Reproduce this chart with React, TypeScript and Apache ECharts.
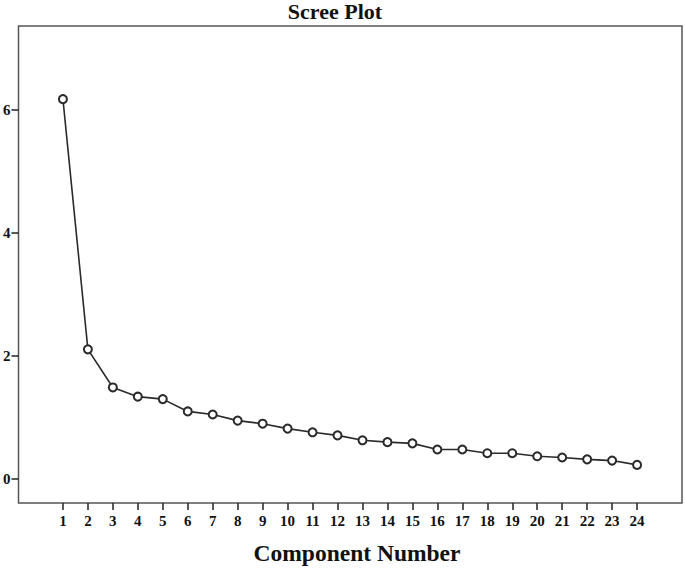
import React, { useEffect, useRef } from "react";
import * as echarts from "echarts";

const components: number[] = Array.from({ length: 24 }, (_, i) => i + 1);
const eigenvalues: number[] = [
  6.18, 2.11, 1.49, 1.34, 1.3, 1.1, 1.05, 0.95, 0.9, 0.82, 0.76, 0.71,
  0.63, 0.6, 0.58, 0.48, 0.48, 0.42, 0.42, 0.37, 0.35, 0.32, 0.3, 0.23,
];
const yTicks: number[] = [0, 2, 4, 6];
const titleText = "Scree Plot";
const xAxisTitle = "Component Number";

const FONT = "'Liberation Serif', 'DejaVu Serif', serif";

export default function App() {
  const ref = useRef<HTMLDivElement>(null);
  useEffect(() => {
    document.body.style.margin = "0";
    if (!ref.current) return;
    const chart = echarts.init(ref.current, undefined, { renderer: "svg" });
    chart.setOption({
      animation: false,
      backgroundColor: "#fff",
      grid: {
        left: 18.5,
        top: 26,
        width: 663.5,
        height: 477,
        show: true,
        borderColor: "#555",
        borderWidth: 1.5,
        backgroundColor: "transparent",
      },
      graphic: [
        {
          type: "text",
          x: 335,
          y: 0,
          style: {
            text: titleText,
            fontFamily: FONT,
            fontWeight: "bold",
            fontSize: 22,
            fill: "#111",
            textAlign: "center",
            textVerticalAlign: "top",
          },
        },
        {
          type: "text",
          x: 357,
          y: 553,
          style: {
            text: xAxisTitle,
            fontFamily: FONT,
            fontWeight: "bold",
            fontSize: 23.5,
            fill: "#111",
            textAlign: "center",
            textVerticalAlign: "middle",
          },
        },
      ],
      xAxis: {
        type: "value",
        min: -0.78,
        max: 25.8,
        splitLine: { show: false },
        axisLine: { show: false, onZero: false },
        axisTick: {
          show: true,
          length: 7,
          inside: false,
          lineStyle: { color: "#222", width: 1.5 },
          customValues: components,
        },
        axisLabel: {
          customValues: components,
          fontFamily: FONT,
          fontWeight: "bold",
          fontSize: 15,
          color: "#111",
          margin: 10,
        },
      },
      yAxis: {
        type: "value",
        min: -0.39,
        max: 7.37,
        splitLine: { show: false },
        axisLine: { show: false, onZero: false },
        axisTick: {
          show: true,
          length: 7,
          inside: false,
          lineStyle: { color: "#222", width: 1.5 },
          customValues: yTicks,
        },
        axisLabel: {
          customValues: yTicks,
          fontFamily: FONT,
          fontWeight: "bold",
          fontSize: 15,
          color: "#111",
          margin: 8,
        },
      },
      series: [
        {
          type: "line",
          data: components.map((c, i) => [c, eigenvalues[i]]),
          symbol: "emptyCircle",
          symbolSize: 8,
          showAllSymbol: true,
          lineStyle: { color: "#2a2a2a", width: 1.6 },
          itemStyle: { color: "#2a2a2a", borderWidth: 1.4 },
        },
      ],
    });
    return () => chart.dispose();
  }, []);
  return <div ref={ref} style={{ width: 685, height: 568 }} />;
}
